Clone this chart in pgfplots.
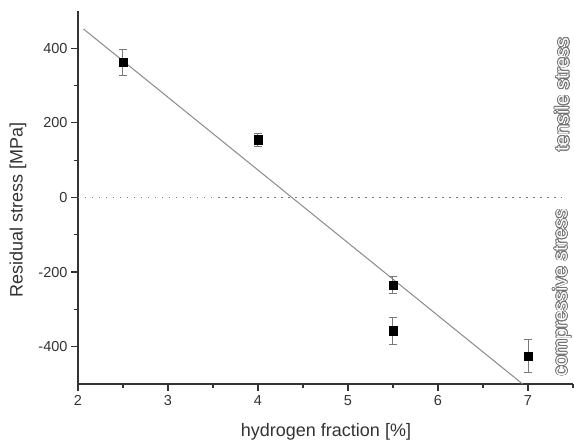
\documentclass[border=0pt]{standalone}
\usepackage{pgfplots}
\pgfplotsset{compat=1.18}
\usepackage{fontspec}
\setmainfont{Liberation Sans}
\definecolor{axcol}{HTML}{333333}
\definecolor{fitcol}{HTML}{8A8A8A}
\definecolor{errcol}{HTML}{7A7A7A}
\begin{document}
\begin{tikzpicture}
\path[use as bounding box] (-78bp,-60bp) rectangle (496bp,384bp);
\begin{axis}[
  name=ax,
  scale only axis,
  width=495bp, height=373bp,
  xmin=2, xmax=7.5, ymin=-500, ymax=500,
  axis lines=left,
  axis line style={-, line width=1.3bp, color=axcol},
  tick align=outside,
  xtick pos=left, ytick pos=left,
  xtick={2,3,4,5,6,7}, xticklabels={2,3,4,5,6,7},
  ytick={-400,-200,0,200,400}, yticklabels={-400,-200,0,200,400},
  minor xtick={2.5,3.5,4.5,5.5,6.5,7.5},
  minor ytick={-300,-100,100,300},
  major tick length=7bp, minor tick length=4bp,
  every tick/.style={line width=1.2bp, color=axcol},
  tick label style={font=\fontsize{14.5bp}{16bp}\selectfont, text=axcol},
  xticklabel style={yshift=-1bp},
  label style={font=\fontsize{18bp}{20bp}\selectfont, text=axcol},
  xlabel={hydrogen fraction [\%]},
  ylabel={Residual stress [MPa]},
  x label style={at={(axis description cs:0.501,0)}, anchor=center, yshift=-48bp},
  y label style={at={(axis description cs:-0.1212,0.466)}, anchor=center},
  clip=false,
]
\addplot[fitcol, line width=1bp] coordinates {(2.06,452) (6.94,-500)};
\addplot[errcol, line width=1.5bp, dash pattern=on 1.5bp off 5.5bp] coordinates {(2,0) (7.38,0)};
\addplot[only marks, mark=square*, mark size=4.2bp, mark options={fill=black, draw=black},
  error bars/.cd, y dir=both, y explicit,
  error bar style={errcol, line width=1bp},
  error mark options={rotate=90, mark size=4bp, errcol, line width=1bp}]
  coordinates {
    (2.5,362) +- (0,36)
    (4.0,155) +- (0,17)
    (5.5,-235) +- (0,23)
    (5.5,-357) +- (0,36)
    (7.0,-425) +- (0,43)
  };
\coordinate (T) at (axis cs:7.375,276);
\coordinate (C) at (axis cs:7.375,-255);
\end{axis}
\foreach \a in {0,22.5,...,337.5}{
  \node[rotate=90, text=gray!90!black, font=\fontsize{19.5bp}{21bp}\selectfont, inner sep=0pt] at ([shift={(\a:0.75bp)}]T) {tensile stress};
  \node[rotate=90, text=gray!90!black, font=\fontsize{19.5bp}{21bp}\selectfont, inner sep=0pt] at ([shift={(\a:0.75bp)}]C) {compressive stress};
}
\node[rotate=90, text=white, font=\fontsize{19.5bp}{21bp}\selectfont, inner sep=0pt] at (T) {tensile stress};
\node[rotate=90, text=white, font=\fontsize{19.5bp}{21bp}\selectfont, inner sep=0pt] at (C) {compressive stress};
\end{tikzpicture}
\end{document}
